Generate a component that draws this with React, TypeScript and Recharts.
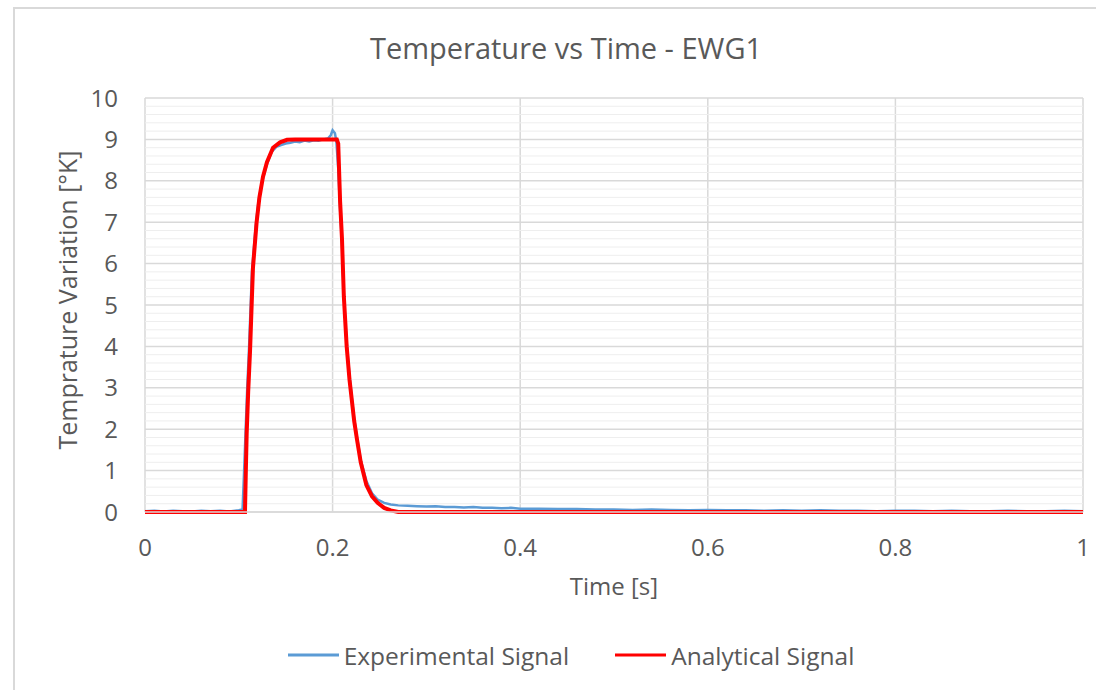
import React from "react"
import { LineChart, Line, XAxis, YAxis, CartesianGrid, ReferenceLine } from "recharts"

// analytical signal
const analyticTime = [
  0, 0.05, 0.1066, 0.1075, 0.1084, 0.11, 0.112, 0.1151, 0.119, 0.122, 0.1258, 0.13, 0.1365, 0.144,
  0.1514, 0.16, 0.18, 0.2045, 0.206, 0.208, 0.21, 0.212, 0.215, 0.218, 0.2205, 0.223, 0.226, 0.23,
  0.236, 0.242, 0.248, 0.255, 0.262, 0.27, 0.4, 0.6, 0.8, 1,
]
const analyticValue = [
  0, 0, 0, 1.0, 1.9, 2.9, 3.9, 5.9, 7.0, 7.6, 8.1, 8.45, 8.8, 8.93,
  8.99, 9.0, 9.0, 9.0, 8.9, 7.5, 6.6, 5.2, 4.0, 3.2, 2.7, 2.2, 1.75, 1.2,
  0.65, 0.38, 0.22, 0.1, 0.04, 0.0, 0, 0, 0, 0,
]

// experimental signal (noisy)
const expTime = [
  0, 0.01, 0.02, 0.03, 0.04, 0.05, 0.06, 0.07, 0.08, 0.09, 0.1, 0.104, 0.1055, 0.107, 0.109, 0.111,
  0.114, 0.118, 0.121, 0.125, 0.13, 0.135, 0.14, 0.145, 0.15, 0.155, 0.16, 0.165, 0.17, 0.175, 0.18,
  0.185, 0.19, 0.195, 0.198, 0.2, 0.2025, 0.204, 0.206, 0.208, 0.21, 0.212, 0.215, 0.218, 0.2205,
  0.223, 0.226, 0.23, 0.236, 0.242, 0.248, 0.255, 0.262, 0.27, 0.28, 0.29, 0.3, 0.31, 0.32, 0.33,
  0.34, 0.35, 0.36, 0.37, 0.38, 0.39, 0.4, 0.42, 0.44, 0.46, 0.48, 0.5, 0.52, 0.54, 0.56, 0.58, 0.6,
  0.62, 0.64, 0.66, 0.68, 0.7, 0.72, 0.74, 0.76, 0.78, 0.8, 0.82, 0.84, 0.86, 0.88, 0.9, 0.92, 0.94,
  0.96, 0.98, 1,
]
const expValue = [
  0.02, 0.03, 0.01, 0.03, 0.02, 0.01, 0.03, 0.02, 0.03, 0.01, 0.04, 0.06, 0.9, 1.8, 3.0, 4.0,
  5.8, 6.9, 7.5, 8.0, 8.4, 8.7, 8.82, 8.86, 8.9, 8.92, 8.95, 8.93, 8.97, 8.95, 8.98,
  8.97, 9.0, 9.02, 9.1, 9.22, 9.15, 8.95, 8.3, 7.3, 6.5, 5.2, 4.1, 3.3, 2.75,
  2.25, 1.8, 1.25, 0.75, 0.45, 0.3, 0.22, 0.18, 0.16, 0.15, 0.14, 0.13, 0.14, 0.12, 0.12,
  0.11, 0.12, 0.1, 0.1, 0.09, 0.1, 0.08, 0.08, 0.07, 0.07, 0.06, 0.06, 0.05, 0.06, 0.05, 0.04, 0.05,
  0.04, 0.04, 0.03, 0.04, 0.03, 0.04, 0.03, 0.03, 0.02, 0.03, 0.03, 0.02, 0.03, 0.02, 0.02, 0.03, 0.02,
  0.02, 0.03, 0.02,
]

const xTicks = [0, 0.2, 0.4, 0.6, 0.8, 1]
const yTicks = [0, 1, 2, 3, 4, 5, 6, 7, 8, 9, 10]
// minor gridlines every 0.2 between the whole numbers
const yMinor = Array.from({ length: 50 }, (_, i) => i * 0.2).filter((v) => Math.abs(v - Math.round(v)) > 0.01)

const analyticData = analyticTime.map((t, i) => ({ t, v: analyticValue[i] }))
const expData = expTime.map((t, i) => ({ t, v: expValue[i] }))

const font = "'Open Sans', sans-serif"
const textColor = "#595959"
const gridColor = "#d9d9d9"

const legendItems = [
  { label: "Experimental Signal", color: "#5b9bd5" },
  { label: "Analytical Signal", color: "#ff0000" },
]

export default function App() {
  return (
    <div style={{ position: "absolute", left: 0, top: 0, width: 1096, height: 690, background: "#fff", fontFamily: font }}>
      <div
        style={{
          position: "absolute",
          left: 13,
          top: 7,
          width: 1083,
          height: 683,
          borderTop: "2px solid #d9d9d9",
          borderLeft: "2px solid #d9d9d9",
          boxSizing: "border-box",
        }}
      />
      <div
        style={{
          position: "absolute",
          left: 166,
          width: 800,
          top: 47,
          transform: "translateY(-50%)",
          textAlign: "center",
          fontSize: 29,
          color: textColor,
          whiteSpace: "nowrap",
        }}
      >
        Temperature vs Time - EWG1
      </div>
      <div
        style={{
          position: "absolute",
          left: 67,
          top: 300,
          transform: "translate(-50%, -50%) rotate(-90deg)",
          whiteSpace: "nowrap",
          fontSize: 25,
          color: textColor,
        }}
      >
        Temprature Variation [°K]
      </div>
      <div
        style={{
          position: "absolute",
          left: 145,
          width: 938,
          top: 585,
          transform: "translateY(-50%)",
          textAlign: "center",
          fontSize: 24,
          color: textColor,
        }}
      >
        Time [s]
      </div>
      <div
        style={{
          position: "absolute",
          left: 71,
          width: 1000,
          top: 655,
          transform: "translateY(-50%)",
          display: "flex",
          justifyContent: "center",
          gap: 46,
          fontSize: 24.5,
          color: textColor,
        }}
      >
        {legendItems.map((it) => (
          <div key={it.label} style={{ display: "flex", alignItems: "center" }}>
            <span style={{ display: "inline-block", width: 51, height: 3, background: it.color, marginRight: 5 }} />
            <span>{it.label}</span>
          </div>
        ))}
      </div>
      <div style={{ position: "absolute", left: 0, top: 0 }}>
        <LineChart width={1096} height={690} margin={{ left: 85, top: 98, right: 13, bottom: 138 }}>
          {yMinor.map((v) => (
            <ReferenceLine key={v} y={v} stroke="#eeeeee" strokeWidth={1} />
          ))}
          <CartesianGrid stroke={gridColor} strokeWidth={1.5} />
          <XAxis
            type="number"
            dataKey="t"
            domain={[0, 1]}
            ticks={xTicks}
            allowDuplicatedCategory={false}
            tickLine={false}
            tickSize={0}
            tickMargin={27}
            axisLine={{ stroke: gridColor, strokeWidth: 1.5 }}
            tick={{ fill: textColor, fontSize: 24, fontFamily: font }}
            height={40}
          />
          <YAxis
            type="number"
            domain={[0, 10]}
            ticks={yTicks}
            tickLine={false}
            tickSize={0}
            tickMargin={27}
            axisLine={false}
            tick={{ fill: textColor, fontSize: 24, fontFamily: font }}
            width={60}
          />
          <Line
            data={expData}
            dataKey="v"
            type="linear"
            stroke="#5b9bd5"
            strokeWidth={2.5}
            dot={false}
            isAnimationActive={false}
            name="Experimental Signal"
          />
          <Line
            data={analyticData}
            dataKey="v"
            type="linear"
            stroke="#ff0000"
            strokeWidth={4}
            dot={false}
            isAnimationActive={false}
            name="Analytical Signal"
          />
        </LineChart>
      </div>
    </div>
  )
}
